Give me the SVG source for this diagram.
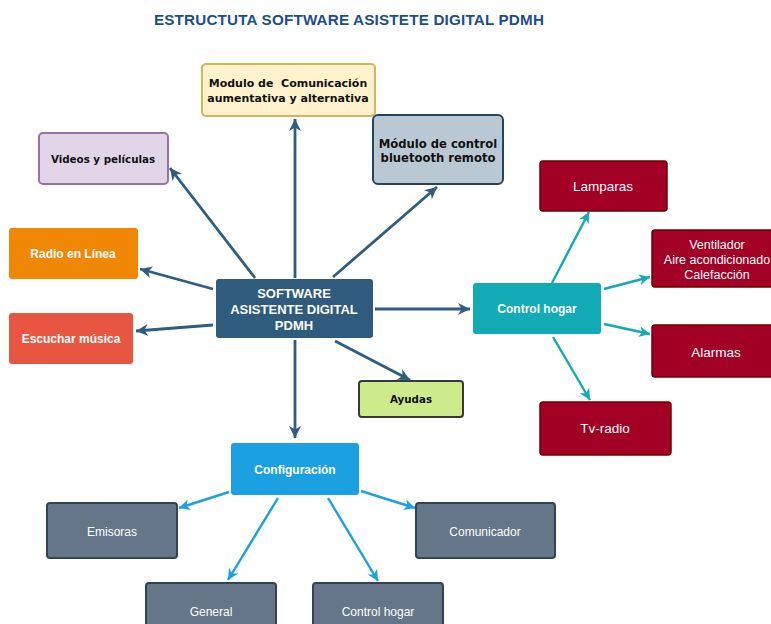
<svg xmlns="http://www.w3.org/2000/svg" width="771" height="624" viewBox="0 0 771 624">
<style>
.t{font-family:"Liberation Sans",Arial,sans-serif;text-anchor:middle}
.b{font-weight:bold}
.d{font-family:"DejaVu Sans",Verdana,sans-serif;font-weight:bold;text-anchor:middle;fill:#111}
.w{fill:#fff}
.cd{stroke:#2e5d80;stroke-width:2.8;fill:none}
.ct{stroke:#12aab5;stroke-width:2.4;fill:none}
.cb{stroke:#1ba1e2;stroke-width:2.4;fill:none}
.red rect{fill:#a20025;stroke:#6f0000;stroke-width:1.5}
.grey rect{fill:#647687;stroke:#314354;stroke-width:2}
</style>
<defs>
<marker id="ad" viewBox="0 0 10 10" refX="10" refY="5" markerWidth="13" markerHeight="12" markerUnits="userSpaceOnUse" orient="auto"><path d="M0,0 L10,5 L0,10 L3,5 z" fill="#2e5d80"/></marker>
<marker id="at" viewBox="0 0 10 10" refX="10" refY="5" markerWidth="12" markerHeight="11" markerUnits="userSpaceOnUse" orient="auto"><path d="M0,0 L10,5 L0,10 L3,5 z" fill="#12aab5"/></marker>
<marker id="ab" viewBox="0 0 10 10" refX="10" refY="5" markerWidth="12" markerHeight="11" markerUnits="userSpaceOnUse" orient="auto"><path d="M0,0 L10,5 L0,10 L3,5 z" fill="#1ba1e2"/></marker>
</defs>
<rect width="771" height="624" fill="#fff"/>
<text id="title" class="t b" x="349" y="25" font-size="15.2" letter-spacing="0.2" fill="#1c4e8a">ESTRUCTUTA SOFTWARE ASISTETE DIGITAL PDMH</text>
<g id="connectors">
<line class="cd" x1="255" y1="278" x2="170" y2="168" marker-end="url(#ad)"/>
<line class="cd" x1="295" y1="278" x2="295" y2="119" marker-end="url(#ad)"/>
<line class="cd" x1="333" y1="277" x2="437" y2="187" marker-end="url(#ad)"/>
<line class="cd" x1="213" y1="289" x2="140" y2="269" marker-end="url(#ad)"/>
<line class="cd" x1="213" y1="325" x2="136" y2="331" marker-end="url(#ad)"/>
<line class="cd" x1="375" y1="309" x2="470" y2="309" marker-end="url(#ad)"/>
<line class="cd" x1="335" y1="341" x2="410" y2="380" marker-end="url(#ad)"/>
<line class="cd" x1="295" y1="340" x2="295" y2="438" marker-end="url(#ad)"/>
<line class="ct" x1="552" y1="283" x2="589" y2="212" marker-end="url(#at)"/>
<line class="ct" x1="604" y1="289" x2="650" y2="277" marker-end="url(#at)"/>
<line class="ct" x1="604" y1="324" x2="650" y2="334" marker-end="url(#at)"/>
<line class="ct" x1="553" y1="337" x2="590" y2="400" marker-end="url(#at)"/>
<line class="cb" x1="229" y1="492" x2="179" y2="508" marker-end="url(#ab)"/>
<line class="cb" x1="278" y1="498" x2="228" y2="580" marker-end="url(#ab)"/>
<line class="cb" x1="328" y1="498" x2="378" y2="581" marker-end="url(#ab)"/>
<line class="cb" x1="361" y1="491" x2="415" y2="508" marker-end="url(#ab)"/>
</g>
<g id="comunicacion">
<rect x="202" y="64" width="173" height="52" rx="4" fill="#fff2cc" stroke="#d6b656" stroke-width="2"/>
<text class="d" x="288" y="87" font-size="11" style="white-space:pre">Modulo de  Comunicación</text>
<text class="d" x="288" y="102" font-size="11">aumentativa y alternativa</text>
</g>
<g id="videos">
<rect x="39" y="133" width="129" height="51" rx="4" fill="#e1d5e7" stroke="#9673a6" stroke-width="2"/>
<text class="d" x="103" y="163" font-size="10.3">Videos y películas</text>
</g>
<g id="bluetooth">
<rect x="373" y="115" width="130" height="69" rx="5" fill="#bac8d3" stroke="#23445d" stroke-width="2"/>
<text class="d" x="438" y="148" font-size="11.6">Módulo de control</text>
<text class="d" x="438" y="162" font-size="11.6">bluetooth remoto</text>
</g>
<g id="radio">
<rect x="9" y="228" width="129" height="51" rx="3" fill="#f08705"/>
<text class="t b w" x="73" y="258" font-size="12">Radio en Línea</text>
</g>
<g id="musica">
<rect x="9" y="313" width="124" height="51" rx="3" fill="#e85642"/>
<text class="t b w" x="71" y="343" font-size="12">Escuchar música</text>
</g>
<g id="software">
<rect x="216" y="279" width="157" height="59" rx="3" fill="#2f5b7c"/>
<text class="t b w" x="294" y="297.5" font-size="13">SOFTWARE</text>
<text class="t b w" x="294" y="313.5" font-size="13">ASISTENTE DIGITAL</text>
<text class="t b w" x="294" y="329.5" font-size="13">PDMH</text>
</g>
<g id="ayudas">
<rect x="359" y="381" width="104" height="36" rx="3" fill="#cdeb8b" stroke="#36393d" stroke-width="2"/>
<text class="d" x="411" y="403" font-size="10.3">Ayudas</text>
</g>
<g id="controlhogar">
<rect x="473" y="283" width="128" height="51" rx="3" fill="#12aab5"/>
<text class="t b w" x="537" y="313" font-size="12">Control hogar</text>
</g>
<g id="lamparas" class="red">
<rect x="540" y="161" width="127" height="50" rx="3"/>
<text class="t w" x="603" y="191" font-size="13.5">Lamparas</text>
</g>
<g id="ventilador" class="red">
<rect x="652" y="230" width="130" height="57" rx="3"/>
<text class="t w" x="717" y="249" font-size="12.5">Ventilador</text>
<text class="t w" x="717" y="264" font-size="12.5">Aire acondicionado</text>
<text class="t w" x="717" y="279" font-size="12.5">Calefacción</text>
</g>
<g id="alarmas" class="red">
<rect x="652" y="325" width="130" height="52" rx="3"/>
<text class="t w" x="716" y="357" font-size="13.5">Alarmas</text>
</g>
<g id="tvradio" class="red">
<rect x="540" y="402" width="131" height="53" rx="3"/>
<text class="t w" x="605" y="433" font-size="13.5">Tv-radio</text>
</g>
<g id="configuracion">
<rect x="231" y="443" width="128" height="52" rx="3" fill="#1ba1e2"/>
<text class="t b w" x="295" y="474" font-size="12">Configuración</text>
</g>
<g id="emisoras" class="grey">
<rect x="47" y="503" width="130" height="55" rx="3"/>
<text class="t w" x="112" y="536" font-size="12">Emisoras</text>
</g>
<g id="comunicador" class="grey">
<rect x="416" y="503" width="139" height="55" rx="3"/>
<text class="t w" x="485" y="536" font-size="12">Comunicador</text>
</g>
<g id="general" class="grey">
<rect x="146" y="583" width="130" height="55" rx="3"/>
<text class="t w" x="211" y="616" font-size="12">General</text>
</g>
<g id="controlhogar2" class="grey">
<rect x="313" y="583" width="130" height="55" rx="3"/>
<text class="t w" x="378" y="616" font-size="12">Control hogar</text>
</g>
</svg>
